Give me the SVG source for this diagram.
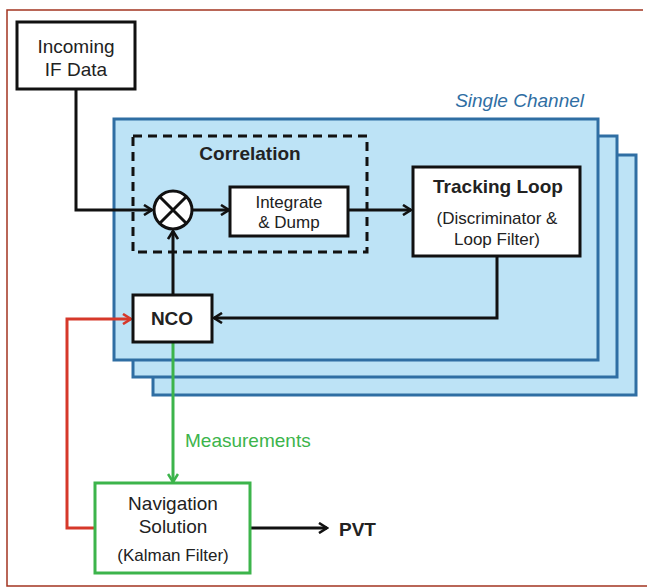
<svg xmlns="http://www.w3.org/2000/svg" width="647" height="587" viewBox="0 0 647 587">
<defs>
<style>
.t{font-family:"Liberation Sans",Arial,sans-serif;fill:#222;text-anchor:middle}
.b{font-weight:bold}
.L{font-size:19px}
.S{font-size:17px}
.panel{fill:#bde3f6;stroke:#2f6ea3;stroke-width:3}
.box{fill:#fff;stroke:#111;stroke-width:3}
.ln{fill:none;stroke-width:3}
</style>
<marker id="ak" viewBox="0 0 12 12" refX="10" refY="6" markerWidth="12" markerHeight="12" markerUnits="userSpaceOnUse" orient="auto">
<path d="M2,1 L10,6 L2,11" fill="none" stroke="#111" stroke-width="2.6"/>
</marker>
<marker id="ar" viewBox="0 0 12 12" refX="10" refY="6" markerWidth="12" markerHeight="12" markerUnits="userSpaceOnUse" orient="auto">
<path d="M2,1 L10,6 L2,11" fill="none" stroke="#d6382a" stroke-width="2.6"/>
</marker>
<marker id="ag" viewBox="0 0 12 12" refX="10" refY="6" markerWidth="12" markerHeight="12" markerUnits="userSpaceOnUse" orient="auto">
<path d="M2,1 L10,6 L2,11" fill="none" stroke="#3cb44b" stroke-width="2.6"/>
</marker>
</defs>
<rect width="647" height="587" fill="#fff"/>
<path d="M643,10 H7 V586 H647" fill="none" stroke="#a23520" stroke-width="1.5"/>

<g id="channels">
<rect class="panel" x="153" y="155" width="483" height="240"/>
<rect class="panel" x="133" y="136" width="484" height="241"/>
<rect class="panel" x="114" y="119" width="484" height="241"/>
<text class="t L" x="584" y="107" font-style="italic" style="fill:#2f6ea3;text-anchor:end">Single Channel</text>
</g>

<g id="correlation">
<rect x="133" y="136" width="234" height="116" fill="none" stroke="#111" stroke-width="3" stroke-dasharray="9,6"/>
<text class="t b L" x="250" y="160">Correlation</text>
</g>

<g id="connectors">
<polyline class="ln" stroke="#111" points="76,89 76,210 152,210" marker-end="url(#ak)"/>
<line class="ln" stroke="#111" x1="192" y1="210" x2="229" y2="210" marker-end="url(#ak)"/>
<line class="ln" stroke="#111" x1="348" y1="210" x2="411" y2="210" marker-end="url(#ak)"/>
<polyline class="ln" stroke="#111" points="497,256 497,318 214,318" marker-end="url(#ak)"/>
<line class="ln" stroke="#111" x1="173" y1="295" x2="173" y2="231" marker-end="url(#ak)"/>
<line class="ln" stroke="#3cb44b" x1="173" y1="342" x2="173" y2="482" marker-end="url(#ag)"/>
<polyline class="ln" stroke="#d6382a" points="95,528 67,528 67,319 131,319" marker-end="url(#ar)"/>
<line class="ln" stroke="#111" x1="250" y1="528" x2="327" y2="528" marker-end="url(#ak)"/>
<text class="t L" x="185" y="447" style="fill:#3cb44b;text-anchor:start">Measurements</text>
</g>

<g id="incoming">
<rect class="box" x="17" y="22" width="118" height="67"/>
<text class="t L" x="76" y="53">Incoming</text>
<text class="t L" x="76" y="76">IF Data</text>
</g>

<g id="mixer">
<circle cx="173" cy="210" r="19" fill="#fff" stroke="#111" stroke-width="3"/>
<path d="M159.5,196.5 L186.5,223.5 M186.5,196.5 L159.5,223.5" stroke="#111" stroke-width="3"/>
</g>

<g id="integrate">
<rect class="box" x="230" y="187" width="118" height="49"/>
<text class="t S" x="289" y="208">Integrate</text>
<text class="t S" x="289" y="228">&amp; Dump</text>
</g>

<g id="tracking">
<rect class="box" x="413" y="167" width="167" height="89"/>
<text class="t b L" x="498" y="193">Tracking Loop</text>
<text class="t S" x="497" y="224">(Discriminator &amp;</text>
<text class="t S" x="497" y="245">Loop Filter)</text>
</g>

<g id="nco">
<rect class="box" x="133" y="295" width="79" height="47"/>
<text class="t b L" x="172" y="325">NCO</text>
</g>

<g id="navigation">
<rect x="95" y="483" width="155" height="90" fill="#fff" stroke="#3cb44b" stroke-width="3"/>
<text class="t L" x="173" y="510">Navigation</text>
<text class="t L" x="173" y="533">Solution</text>
<text class="t S" x="173" y="561">(Kalman Filter)</text>
</g>

<g id="pvt">
<text class="t b L" x="339" y="536" style="text-anchor:start">PVT</text>
</g>
</svg>
